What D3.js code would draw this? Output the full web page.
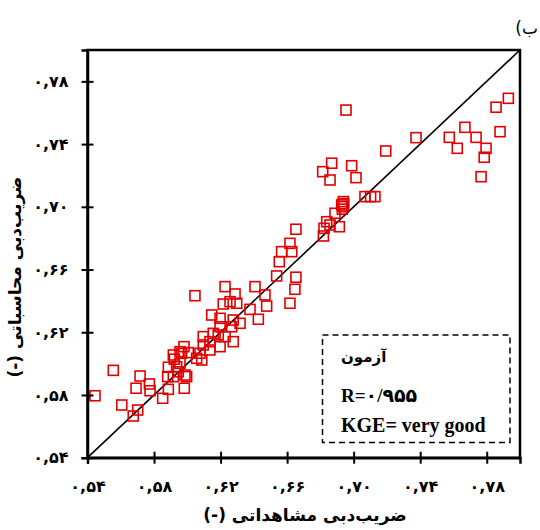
<!DOCTYPE html>
<html>
<head>
<meta charset="utf-8">
<script src="https://cdn.jsdelivr.net/npm/d3@7"></script>
<style>
  body { margin: 0; background: #fff; }
  svg { display: block; }
</style>
</head>
<body>
<div id="chart"></div>
<script>
const width = 540;
const height = 530;
const margin = { top: 50, right: 20, bottom: 72.3, left: 87.5 };

// observed (x) and computed (y) discharge coefficients
const observed = [
  0.5445, 0.5555, 0.5606, 0.5675, 0.5702, 0.5716, 0.5692, 0.5772, 0.5776, 0.5852,
  0.5886, 0.5882, 0.5886, 0.5922, 0.5916, 0.5980, 0.5966, 0.6006, 0.5996, 0.5982,
  0.5956, 0.5946, 0.6046, 0.6227, 0.6407, 0.6287, 0.6467, 0.6477, 0.6216, 0.6257,
  0.6297, 0.6377, 0.6427, 0.6147, 0.6197, 0.6197, 0.6276, 0.6317, 0.6267, 0.6096,
  0.6156, 0.6186, 0.6227, 0.6276, 0.6197, 0.6136, 0.6096, 0.5956, 0.6076, 0.6136,
  0.6087, 0.6056, 0.5916, 0.5936, 0.5986, 0.6928, 0.6888, 0.6858, 0.6914, 0.6822,
  0.6818, 0.6653, 0.6617, 0.6628, 0.6567, 0.6553, 0.6537, 0.6653, 0.6647, 0.6617,
  0.6954, 0.7193, 0.7375, 0.6868, 0.6814, 0.6858, 0.6988, 0.7014, 0.7068, 0.7102,
  0.7128, 0.6938, 0.6938, 0.6838, 0.7930, 0.7856, 0.7880, 0.7669, 0.7736, 0.7575,
  0.7623, 0.7796, 0.7785, 0.7766, 0.6932, 0.6940
];
const computed = [
  0.5795, 0.5957, 0.5736, 0.5666, 0.5704, 0.5921, 0.5843, 0.5870, 0.5827, 0.5779,
  0.5977, 0.5917, 0.5836, 0.6028, 0.5917, 0.6108, 0.6066, 0.6070, 0.5917, 0.5843,
  0.6002, 0.5948, 0.6433, 0.6491, 0.6491, 0.6444, 0.6438, 0.6367, 0.6380, 0.6395,
  0.6385, 0.6346, 0.6283, 0.6310, 0.6289, 0.6235, 0.6278, 0.6257, 0.6235, 0.6172,
  0.6193, 0.6183, 0.6172, 0.6140, 0.6108, 0.6140, 0.6119, 0.6076, 0.6066, 0.6087,
  0.6023, 0.6034, 0.6055, 0.5980, 0.5927, 0.7012, 0.6959, 0.6884, 0.6873, 0.6863,
  0.6814, 0.6857, 0.6767, 0.6714, 0.6714, 0.6650, 0.6559, 0.6551, 0.6474, 0.6385,
  0.7617, 0.7356, 0.7441, 0.7278, 0.7224, 0.7171, 0.7262, 0.7186, 0.7065, 0.7065,
  0.7065, 0.7033, 0.7001, 0.6905, 0.7692, 0.7635, 0.7479, 0.7507, 0.7443, 0.7443,
  0.7373, 0.7373, 0.7316, 0.7192, 0.6985, 0.7020
];
const tickValues = [0.54, 0.58, 0.62, 0.66, 0.70, 0.74, 0.78];
const legendLines = ["آزمون", "R=۰/۹۵۵", "KGE= very good"];

const faDigits = "۰۱۲۳۴۵۶۷۸۹";
const toFa = s => s.replace(/[0-9]/g, d => faDigits[+d]);
const tickFormat = d => toFa(d.toFixed(2)).replace(".", ",");

const points = observed.map((o, i) => ({ o, c: computed[i] }));

const svg = d3.select("#chart")
  .append("svg")
  .attr("width", width)
  .attr("height", height);

const x = d3.scaleLinear()
  .domain([0.54, 0.80])
  .range([margin.left, width - margin.right]);

const y = d3.scaleLinear()
  .domain([0.54, 0.80])
  .range([height - margin.bottom, margin.top]);

// frame
svg.append("rect")
  .attr("x", x(0.54))
  .attr("y", y(0.80))
  .attr("width", x(0.80) - x(0.54))
  .attr("height", y(0.54) - y(0.80))
  .attr("fill", "none")
  .attr("stroke", "#000")
  .attr("stroke-width", 2.5);

// 1:1 line
svg.append("line")
  .attr("x1", x(0.54))
  .attr("y1", y(0.54))
  .attr("x2", x(0.80))
  .attr("y2", y(0.80))
  .attr("stroke", "#000")
  .attr("stroke-width", 1.6);

// points
svg.append("g")
  .selectAll("rect")
  .data(points)
  .join("rect")
  .attr("x", d => x(d.o) - 5)
  .attr("y", d => y(d.c) - 5)
  .attr("width", 10)
  .attr("height", 10)
  .attr("fill", "none")
  .attr("stroke", "#e00000")
  .attr("stroke-width", 1.6);

// axes
const xAxis = svg.append("g")
  .attr("transform", `translate(0,${y(0.54)})`)
  .call(d3.axisBottom(x).tickValues(tickValues).tickFormat(tickFormat).tickSize(6));

const yAxis = svg.append("g")
  .attr("transform", `translate(${x(0.54)},0)`)
  .call(d3.axisLeft(y).tickValues(tickValues).tickFormat(tickFormat).tickSize(6));

[xAxis, yAxis].forEach(g => {
  g.select(".domain").attr("stroke-width", 2.5);
  g.selectAll(".tick line").attr("stroke-width", 2);
  g.selectAll(".tick text")
    .style("font-family", "DejaVu Sans")
    .style("font-weight", "bold")
    .style("font-size", "16px")
    .style("letter-spacing", "2px")
    .attr("fill", "#000");
});
xAxis.selectAll(".tick line").attr("y1", -6).attr("y2", 6);
xAxis.selectAll(".tick text").attr("y", 23);
yAxis.selectAll(".tick line").attr("x1", 6).attr("x2", -6);
yAxis.selectAll(".tick text").attr("x", -19);

// axis titles
svg.append("text")
  .attr("x", 305)
  .attr("y", 521)
  .attr("text-anchor", "middle")
  .attr("direction", "rtl")
  .style("font-family", "DejaVu Sans")
  .style("font-weight", "bold")
  .style("font-size", "17px")
  .text("ضریب‌دبی مشاهداتی (-)");

svg.append("text")
  .attr("transform", "translate(21,277) rotate(-90)")
  .attr("text-anchor", "middle")
  .attr("direction", "rtl")
  .style("font-family", "DejaVu Sans")
  .style("font-weight", "bold")
  .style("font-size", "17px")
  .text("ضریب‌دبی محاسباتی (-)");

// panel label
svg.append("text")
  .attr("x", 538)
  .attr("y", 34)
  .attr("text-anchor", "end")
  .style("font-family", "DejaVu Sans")
  .style("font-size", "17px")
  .text("\u202Bب)\u202C");

// legend box
svg.append("rect")
  .attr("x", 322.5)
  .attr("y", 335)
  .attr("width", 187.5)
  .attr("height", 107.5)
  .attr("fill", "#fff")
  .attr("stroke", "#000")
  .attr("stroke-width", 1.5)
  .attr("stroke-dasharray", "6,4");

const legendY = [362, 402, 432];
const legendSize = ["15px", "19px", "20px"];
svg.append("g")
  .selectAll("text")
  .data(legendLines)
  .join("text")
  .attr("x", 341)
  .attr("y", (d, i) => legendY[i])
  .style("font-family", "'Liberation Serif', 'DejaVu Sans'")
  .style("font-weight", "bold")
  .style("font-size", (d, i) => legendSize[i])
  .text(d => d);
</script>
</body>
</html>
